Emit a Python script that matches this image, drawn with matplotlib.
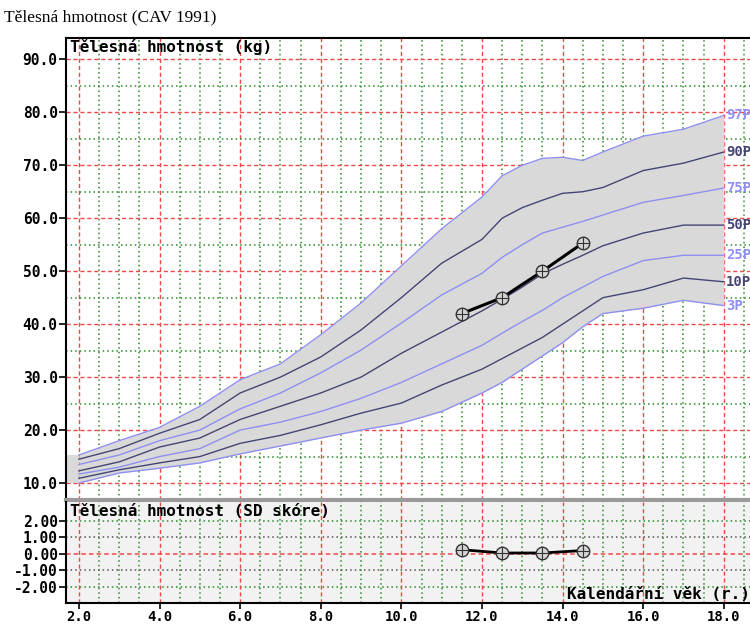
import numpy as np
import matplotlib
matplotlib.use('Agg')
import matplotlib.pyplot as plt
from matplotlib.ticker import MultipleLocator, FixedLocator

# věk (roky) a percentilové křivky hmotnosti (kg)
ages = [2, 3, 4, 5, 6, 7, 8, 9, 10, 11, 12, 12.5, 13, 13.5, 14, 14.5, 15, 16, 17, 18]
p97 = [15.3, 18.0, 20.5, 24.5, 29.5, 32.5, 38.0, 44.0, 51.0, 58.0, 64.0, 68.0, 70.0, 71.3, 71.5, 70.9, 72.5, 75.5, 76.8, 79.4]
p90 = [14.5, 16.5, 19.4, 22.0, 27.0, 30.0, 33.8, 38.9, 45.0, 51.5, 56.0, 60.0, 62.0, 63.4, 64.7, 65.0, 65.8, 69.0, 70.4, 72.5]
p75 = [13.5, 15.3, 18.0, 20.0, 24.0, 27.0, 30.8, 35.1, 40.2, 45.5, 49.6, 52.6, 55.0, 57.2, 58.3, 59.4, 60.6, 63.0, 64.3, 65.7]
p50 = [12.3, 14.0, 16.8, 18.5, 22.0, 24.5, 27.0, 30.0, 34.5, 38.5, 42.5, 44.7, 47.0, 49.5, 51.3, 53.0, 54.8, 57.2, 58.7, 58.7]
p25 = [11.7, 13.0, 15.0, 16.5, 20.0, 21.5, 23.5, 26.0, 29.0, 32.5, 36.0, 38.3, 40.5, 42.6, 45.0, 47.0, 49.0, 52.0, 53.0, 53.0]
p10 = [10.9, 12.5, 13.8, 15.0, 17.5, 19.0, 21.0, 23.2, 25.1, 28.5, 31.5, 33.5, 35.5, 37.5, 40.0, 42.5, 45.0, 46.5, 48.7, 48.0]
p3 = [10.0, 11.9, 12.8, 13.8, 15.5, 17.0, 18.5, 20.0, 21.3, 23.5, 27.0, 29.0, 31.5, 34.0, 36.5, 39.5, 42.0, 43.0, 44.5, 43.5]
pct_labels = ['97P', '90P', '75P', '50P', '25P', '10P', '3P']

# pacient
pat_age = [11.5, 12.5, 13.5, 14.5]
pat_weight = [42.0, 45.0, 50.0, 55.3]
pat_sd = [0.25, 0.05, 0.05, 0.2]

LIGHT = '#8f8ff2'
DARK = '#454575'
RED = '#f04848'
GREEN = '#2a8a2a'
MONO = 'DejaVu Sans Mono'

fig = plt.figure(figsize=(7.5, 6.25), dpi=100)
ax = fig.add_axes([0.088, 0.2, 0.912, 0.739])
ax2 = fig.add_axes([0.088, 0.0352, 0.912, 0.1616])

xlim = (1.68, 18.65)
for a in (ax, ax2):
    a.set_xlim(*xlim)
    a.xaxis.set_major_locator(MultipleLocator(2))
    a.xaxis.set_minor_locator(MultipleLocator(0.5))
    a.grid(which='minor', axis='x', color=GREEN, linestyle=(0, (1, 2)), linewidth=1.1, zorder=0)
    a.grid(which='major', axis='x', color=RED, linestyle=(0, (3, 2)), linewidth=1.0, zorder=0)
    a.spines['right'].set_visible(False)
    a.set_axisbelow(True)

# horní panel
ax.set_ylim(6.8, 94.0)
ax.yaxis.set_major_locator(MultipleLocator(10))
ax.yaxis.set_minor_locator(MultipleLocator(5))
ax.grid(which='minor', axis='y', color=GREEN, linestyle=(0, (1, 2)), linewidth=1.1, zorder=0)
ax.grid(which='major', axis='y', color=RED, linestyle=(0, (3, 2)), linewidth=1.0, zorder=0)
ax.tick_params(axis='y', which='major', direction='out', length=5, width=1.2, pad=1)
ax.tick_params(axis='y', which='minor', length=0)
ax.tick_params(axis='x', which='both', length=0, labelbottom=False)
ax.set_yticks(ax.get_yticks())
ax.set_yticklabels([f'{v:.1f}' for v in ax.get_yticks()], fontfamily=MONO,
                   fontweight='bold', fontsize=10.5)
ax.set_ylim(6.8, 94.0)
ax.spines['bottom'].set_color('#9a9a9a')
ax.spines['bottom'].set_linewidth(3)
ax.spines['left'].set_linewidth(1.5)
ax.spines['top'].set_linewidth(1.5)

ax.fill_between(ages, p3, p97, color='#d9d9d9', zorder=1, linewidth=0)
ax.fill_between([xlim[0], ages[0]], [p3[0]] * 2, [p97[0]] * 2, color='#d9d9d9', zorder=1, linewidth=0)

curves = [p97, p90, p75, p50, p25, p10, p3]
for i, (c, lab) in enumerate(zip(curves, pct_labels)):
    col = LIGHT if i % 2 == 0 else DARK
    ax.plot(ages, c, color=col, linewidth=1.0, zorder=3)
    ax.text(ages[-1] + 0.05, c[-1], lab, color=col, fontfamily=MONO, fontweight='bold',
            fontsize=10, va='center', ha='left', zorder=4)

ax.plot(pat_age, pat_weight, color='black', linewidth=2.2, zorder=5)
ax.plot(pat_age, pat_weight, 'o', ms=9, mfc='#d4d4d4', mec='#333333', mew=1.0, zorder=6)
ax.plot(pat_age, pat_weight, '+', ms=9, mec='#333333', mew=0.8, zorder=7)

ax.text(0.006, 0.998, 'Tělesná hmotnost (kg)', transform=ax.transAxes, ha='left', va='top',
        fontfamily=MONO, fontweight='bold', fontsize=11.5, zorder=8)

# dolní panel – SD skóre
ax2.set_facecolor('#f2f2f2')
ax2.set_ylim(-3.0, 3.16)
sd_ticks = [2, 1, 0, -1, -2]
sd_colors = [GREEN, '#555555', RED, '#555555', GREEN]
for v, col in zip(sd_ticks, sd_colors):
    ls = (0, (3, 2)) if col == RED else (0, (1, 2))
    ax2.axhline(v, color=col, linestyle=ls, linewidth=1.1, zorder=0.5)
ax2.yaxis.set_major_locator(FixedLocator(sd_ticks))
ax2.set_yticklabels([f'{v:.2f}' for v in sd_ticks], fontfamily=MONO, fontweight='bold', fontsize=10.5)
ax2.tick_params(axis='y', direction='out', length=5, width=1.2, pad=1)
ax2.tick_params(axis='x', which='major', direction='out', length=4, width=1.2, pad=1)
ax2.tick_params(axis='x', which='minor', length=0)
ax2.set_xticklabels([f'{v:.1f}' for v in ax2.get_xticks()], fontfamily=MONO,
                    fontweight='bold', fontsize=10)
ax2.set_xlim(*xlim)
ax2.spines['top'].set_visible(False)
ax2.spines['left'].set_linewidth(1.5)
ax2.spines['bottom'].set_linewidth(1.5)

ax2.plot(pat_age, pat_sd, color='black', linewidth=2.0, zorder=5)
ax2.plot(pat_age, pat_sd, 'o', ms=9, mfc='#d4d4d4', mec='#333333', mew=1.0, zorder=6)
ax2.plot(pat_age, pat_sd, '+', ms=9, mec='#333333', mew=0.8, zorder=7)

ax2.text(0.006, 0.985, 'Tělesná hmotnost (SD skóre)', transform=ax2.transAxes, ha='left', va='top',
         fontfamily=MONO, fontweight='bold', fontsize=11.5, zorder=8)
ax2.text(14.1, -2.5, 'Kalendářní věk (r.)', ha='left', va='center',
         fontfamily=MONO, fontweight='bold', fontsize=11.5, zorder=8)

fig.text(0.006, 0.972, 'Tělesná hmotnost (CAV 1991)', fontfamily='Liberation Serif',
         fontsize=12.5, ha='left', va='center')

fig.savefig('out.png', dpi=100)
